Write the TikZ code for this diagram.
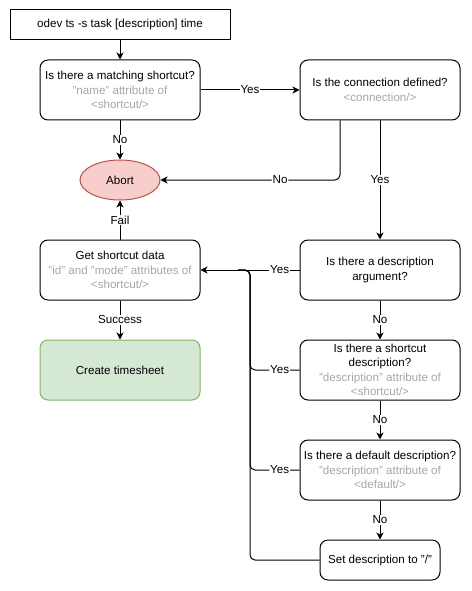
\documentclass[tikz,border=0pt]{standalone}
\usepackage{fontspec}
\setmainfont{Liberation Sans}
\usetikzlibrary{arrows.meta,shapes.geometric}
\definecolor{hintgray}{HTML}{A6A6A6}
\definecolor{abortfill}{HTML}{F8CECC}
\definecolor{abortline}{HTML}{B85450}
\definecolor{donefill}{HTML}{D5E8D4}
\definecolor{doneline}{HTML}{82B366}
\def\hint#1{\textcolor{hintgray}{#1}}

\begin{document}
\begin{tikzpicture}[x=1pt, y=-1pt, line width=1pt,
	font=\fontsize{11.6}{14.5}\selectfont,
	stepbox/.style={draw, rounded corners=8pt, minimum width=160pt, minimum height=60pt, inner sep=0pt, align=center},
	flow/.style={-{Stealth[length=7pt,width=7pt,inset=2pt]}},
	lbl/.style={fill=white, inner sep=1pt}]
			%%%%% START %%%%%
			\useasboundingbox (0, 0) rectangle (471, 591);
			
			\node[draw, minimum width=220pt, minimum height=30pt, inner sep=0pt] (cmd) at (120, 25) {odev ts -s task [description] time};
			
			\node[stepbox] (match) at (120, 90) {Is there a matching shortcut?\\\hint{"name" attribute of}\\\hint{<shortcut/>}};
			\node[stepbox] (conn) at (380, 90) {Is the connection defined?\\\hint{<connection/>}};
			
			\node[draw=abortline, fill=abortfill, ellipse, minimum width=80pt, minimum height=40pt, inner sep=0pt] (abort) at (120, 180) {Abort};
			
			\node[stepbox] (getdata) at (120, 270) {Get shortcut data\\\hint{"id" and "mode" attributes of}\\\hint{<shortcut/>}};
			\node[stepbox, draw=doneline, fill=donefill] (create) at (120, 370) {Create timesheet};
			
			\node[stepbox] (descarg) at (380, 270) {Is there a description\\argument?};
			\node[stepbox] (scdesc) at (380, 370) {Is there a shortcut\\description?\\\hint{"description" attribute of}\\\hint{<shortcut/>}};
			\node[stepbox] (defdesc) at (380, 470) {Is there a default description?\\\hint{"description" attribute of}\\\hint{<default/>}};
			\node[stepbox, minimum width=120pt, minimum height=40pt] (setdesc) at (380, 560) {Set description to "/"};
			
			\coordinate (join) at (250, 270);
			\coordinate (joinend) at (238, 270);
			
			\draw[flow] (cmd) -- (match);
			\draw[flow] (match) -- node[lbl]{Yes} (conn);
			\draw[flow] (match) -- node[lbl]{No} (abort);
			\draw[flow, rounded corners=5pt] ([xshift=-40pt]conn.south) |- node[lbl, pos=0.667]{No} (abort);
			\draw[flow] (conn) -- node[lbl]{Yes} (descarg);
			
			\draw[flow] (getdata) -- node[lbl]{Fail} (abort);
			\draw[flow] (getdata) -- node[lbl]{Success} (create);
			
			\draw[rounded corners=5pt] (scdesc.west) -| node[lbl, pos=0.2]{Yes} (join) -- (joinend);
			\draw[rounded corners=5pt] (defdesc.west) -| node[lbl, pos=0.2]{Yes} (join) -- (joinend);
			\draw[rounded corners=5pt] (setdesc.west) -| (join) -- (joinend);
			\draw[flow] (descarg) -- node[lbl, pos=0.2]{Yes} (getdata);
			
			\draw[flow] (descarg) -- node[lbl]{No} (scdesc);
			\draw[flow] (scdesc) -- node[lbl]{No} (defdesc);
			\draw[flow] (defdesc) -- node[lbl]{No} (setdesc);
			%%%%% END %%%%%
\end{tikzpicture}
\end{document}
